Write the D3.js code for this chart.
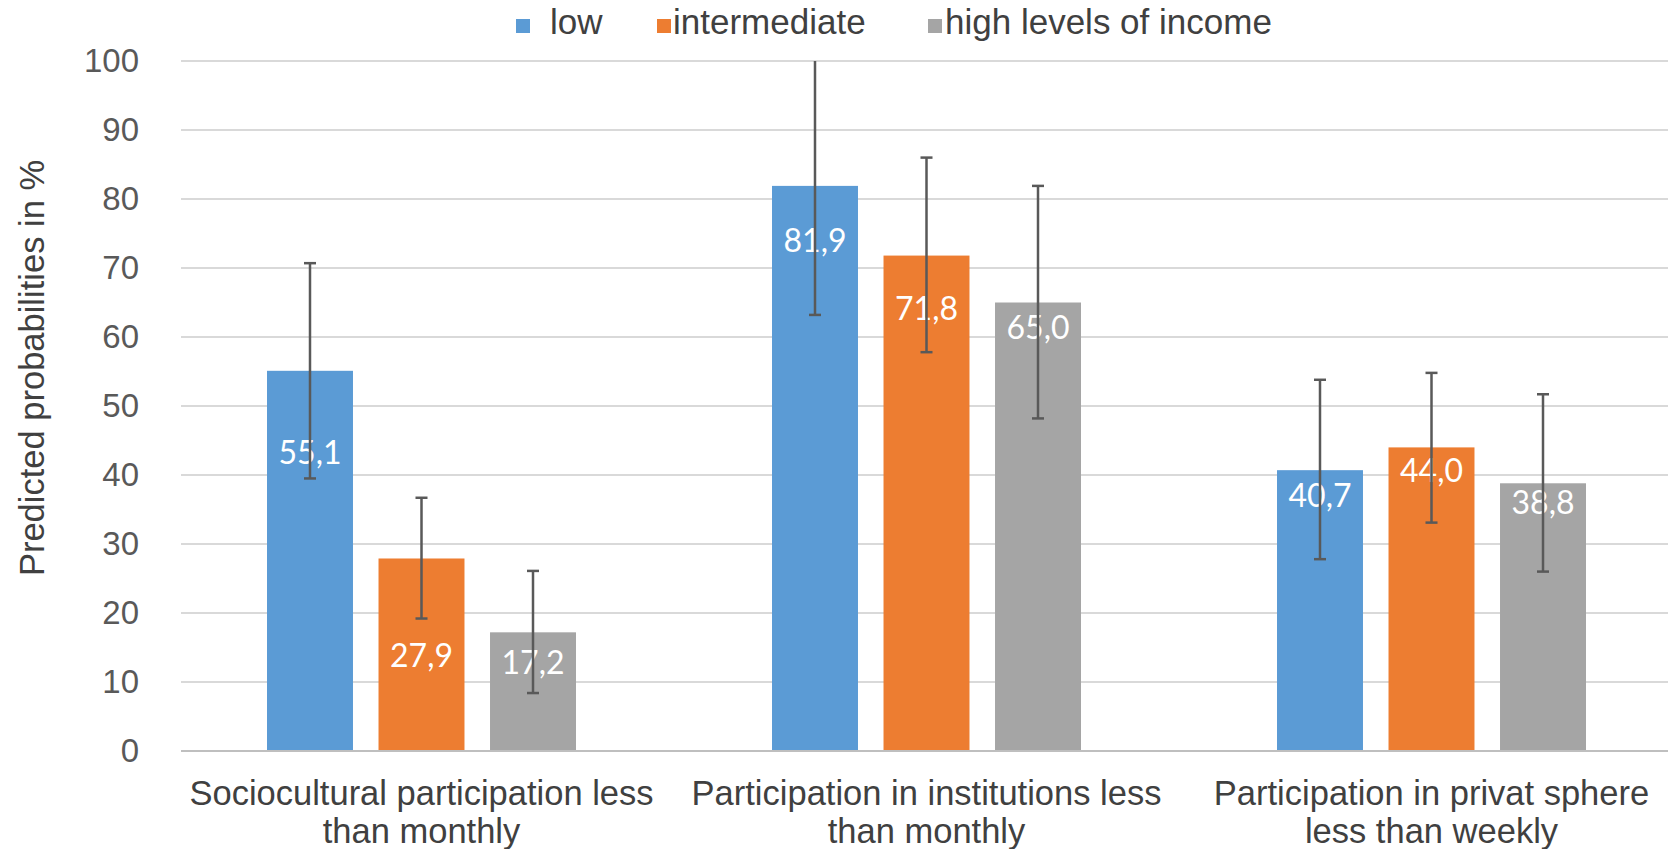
<!DOCTYPE html>
<html>
<head>
<meta charset="utf-8">
<script src="https://cdn.jsdelivr.net/npm/d3@7"></script>
<style>
  body { margin: 0; background: #fff; overflow: hidden; }
  text { font-family: "Liberation Sans", Arial, sans-serif; }
</style>
</head>
<body>
<div id="chart"></div>
<script>
// categories (two-line labels under the axis)
const categories = ["socio", "inst", "priv"];
const categoryLines = [
    ["Sociocultural participation less", "than monthly"],
    ["Participation in institutions less", "than monthly"],
    ["Participation in privat sphere", "less than weekly"]
];
const seriesNames = ["low", "intermediate", "high levels of income"];
const seriesColors = ["#5b9bd5", "#ed7d31", "#a5a5a5"];

// predicted probabilities in %
const lowValues = [55.1, 81.9, 40.7];
const intermediateValues = [27.9, 71.8, 44.0];
const highValues = [17.2, 65.0, 38.8];

// confidence intervals [lower, upper]
const lowCI = [[39.5, 70.7], [63.2, 100], [27.8, 53.8]];
const intermediateCI = [[19.2, 36.7], [57.8, 86.0], [33.1, 54.8]];
const highCI = [[8.4, 26.1], [48.2, 81.9], [26.0, 51.7]];

// where the value labels sit (in % units)
const lowLabelAt = [43.2, 74.0, 37.0];
const intermediateLabelAt = [13.8, 64.1, 40.6];
const highLabelAt = [12.8, 61.4, 35.9];

const yTicks = [0, 10, 20, 30, 40, 50, 60, 70, 80, 90, 100];

const allValues = [lowValues, intermediateValues, highValues];
const allCI = [lowCI, intermediateCI, highCI];
const allLabelAt = [lowLabelAt, intermediateLabelAt, highLabelAt];

const rows = [];
categories.forEach((c, i) => {
    seriesNames.forEach((s, j) => {
        rows.push({
            category: c, series: s, color: seriesColors[j],
            value: allValues[j][i], lo: allCI[j][i][0], hi: allCI[j][i][1],
            labelAt: allLabelAt[j][i]
        });
    });
});

const width = 1668, height = 849;
const plotLeft = 181, plotRight = 1668;

const svg = d3.select("#chart").append("svg")
    .attr("width", width)
    .attr("height", height);

const x0 = d3.scaleBand().domain(categories).range([169, 1684]).padding(0);
const x1 = d3.scaleBand().domain(seriesNames).range([0, x0.bandwidth()])
    .paddingInner(0.229).paddingOuter(0.879);
const y = d3.scaleLinear().domain([0, 100]).range([751, 61]);

// gridlines
svg.append("g")
    .selectAll("line")
    .data(yTicks.filter(d => d > 0))
    .join("line")
    .attr("x1", plotLeft).attr("x2", plotRight)
    .attr("y1", d => y(d)).attr("y2", d => y(d))
    .attr("stroke", "#d9d9d9")
    .attr("stroke-width", 2);

// y axis labels
const yAxis = svg.append("g")
    .attr("transform", `translate(${plotLeft},0)`)
    .call(d3.axisLeft(y).tickValues(yTicks).tickSize(0).tickPadding(42));
yAxis.select(".domain").remove();
yAxis.selectAll("text")
    .style("font-family", "'Liberation Sans', Arial, sans-serif")
    .style("font-size", "33px")
    .attr("fill", "#595959");

// bars
const groups = svg.append("g")
    .selectAll("g")
    .data(categories)
    .join("g")
    .attr("transform", d => `translate(${x0(d)},0)`);

groups.selectAll("rect")
    .data(c => rows.filter(r => r.category === c))
    .join("rect")
    .attr("x", d => x1(d.series))
    .attr("width", x1.bandwidth())
    .attr("y", d => y(d.value))
    .attr("height", d => y(0) - y(d.value))
    .attr("fill", d => d.color);

// baseline
svg.append("line")
    .attr("x1", plotLeft).attr("x2", plotRight)
    .attr("y1", y(0)).attr("y2", y(0))
    .attr("stroke", "#bfbfbf")
    .attr("stroke-width", 2);

// value labels
groups.selectAll("text.val")
    .data(c => rows.filter(r => r.category === c))
    .join("text")
    .attr("class", "val")
    .attr("x", d => x1(d.series) + x1.bandwidth() / 2)
    .attr("y", d => y(d.labelAt))
    .attr("dy", "0.35em")
    .attr("text-anchor", "middle")
    .style("font-family", "Lato, 'Open Sans', sans-serif")
    .style("font-size", "32px")
    .attr("fill", "#ffffff")
    .text(d => d.value.toFixed(1).replace(".", ","));

// error bars
const errs = groups.selectAll("g.err")
    .data(c => rows.filter(r => r.category === c))
    .join("g")
    .attr("class", "err")
    .attr("transform", d => `translate(${x1(d.series) + x1.bandwidth() / 2},0)`)
    .attr("stroke", "#595959")
    .attr("stroke-width", 2.5);
errs.append("line")
    .attr("y1", d => y(d.lo)).attr("y2", d => y(d.hi));
errs.append("line")
    .attr("x1", -6).attr("x2", 6)
    .attr("y1", d => y(d.lo)).attr("y2", d => y(d.lo));
errs.filter(d => d.hi < 100).append("line")
    .attr("x1", -6).attr("x2", 6)
    .attr("y1", d => y(d.hi)).attr("y2", d => y(d.hi));

// category labels
groups.append("text")
    .attr("text-anchor", "middle")
    .style("font-size", "34.5px")
    .attr("fill", "#404040")
    .selectAll("tspan")
    .data((c, i) => categoryLines[i])
    .join("tspan")
    .attr("x", x0.bandwidth() / 2)
    .attr("y", (d, i) => 805 + i * 38)
    .text(d => d);

// y title
svg.append("text")
    .attr("transform", "translate(44,368) rotate(-90)")
    .attr("text-anchor", "middle")
    .style("font-size", "34.5px")
    .attr("fill", "#404040")
    .text("Predicted probabilities in %");

// legend (Excel places the first marker a bit further from its text)
const legendItems = [
    { name: seriesNames[0], color: seriesColors[0], box: 516, text: 550 },
    { name: seriesNames[1], color: seriesColors[1], box: 657, text: 673 },
    { name: seriesNames[2], color: seriesColors[2], box: 928, text: 945 }
];
const legend = svg.append("g");
legend.selectAll("rect")
    .data(legendItems)
    .join("rect")
    .attr("x", d => d.box).attr("y", 19)
    .attr("width", 14).attr("height", 14)
    .attr("fill", d => d.color);
legend.selectAll("text")
    .data(legendItems)
    .join("text")
    .attr("x", d => d.text).attr("y", 34)
    .style("font-size", "35px")
    .attr("fill", "#404040")
    .text(d => d.name);
</script>
</body>
</html>
